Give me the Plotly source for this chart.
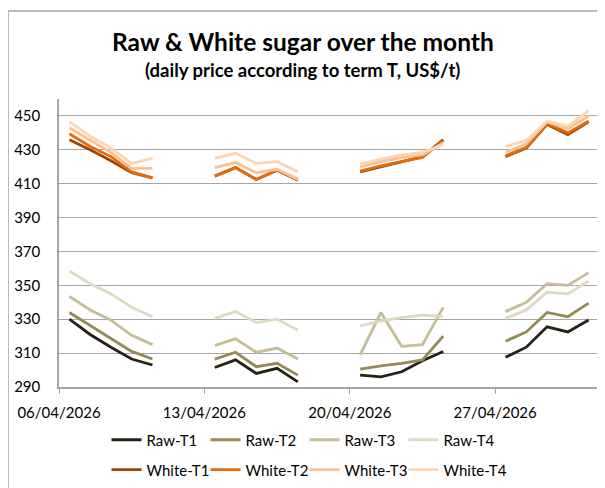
import datetime as dt
import plotly.graph_objects as go

# trading days shown on the chart
days = [
    "2026-04-06", "2026-04-07", "2026-04-08", "2026-04-09", "2026-04-10",
    "2026-04-13", "2026-04-14", "2026-04-15", "2026-04-16", "2026-04-17",
    "2026-04-20", "2026-04-21", "2026-04-22", "2026-04-23", "2026-04-24",
    "2026-04-27", "2026-04-28", "2026-04-29", "2026-04-30", "2026-05-01",
]

raw_t1 = [330, 321, 313.5, 306.5, 303, 301.5, 306, 298, 301, 293,
          297, 296, 299, 305.5, 311, 307.5, 313.5, 325.5, 322.5, 329.5]
raw_t2 = [334, 326.5, 319, 311, 306.5, 306.5, 310.5, 302, 304, 297,
          300.5, 302.5, 304, 306, 320, 317, 322.5, 334, 331.5, 339.5]
raw_t3 = [343.5, 335.5, 329.5, 320.5, 315, 314.5, 318.5, 310.5, 313, 306.5,
          309, 334, 314, 315, 337, 334.5, 340, 351, 350, 357.5]
raw_t4 = [358.5, 351, 345, 337, 331.5, 330.5, 334.5, 328, 330, 323.5,
          326, 329, 331, 332.5, 331.5, 330.5, 335.5, 346, 345, 352.5]

white_t1 = [436, 430, 423.5, 416.5, 413.5, 414.5, 419.5, 412.5, 418, 412,
            417, 420, 423, 426, 436, 426, 431, 445, 439, 446.5]
white_t2 = [439.5, 432, 426, 417, 413.5, 414.5, 419.5, 412.5, 418, 412.5,
            417.5, 420.5, 423, 425.5, 435.5, 426.5, 431.5, 445.5, 440, 447]
white_t3 = [443, 435.5, 428.5, 419, 419, 419.5, 422.5, 416.5, 418.5, 412.5,
            420, 423, 425.5, 427, 434, 428.5, 433.5, 446.5, 442.5, 450]
white_t4 = [446.5, 438, 431, 422, 425, 425, 428, 422, 423, 417,
            421.5, 424.5, 427, 428.5, 433, 432, 435.5, 447, 444, 453]

series = [
    ("Raw-T1", raw_t1, "#262115", "legend"),
    ("Raw-T2", raw_t2, "#948a54", "legend"),
    ("Raw-T3", raw_t3, "#c4bd97", "legend"),
    ("Raw-T4", raw_t4, "#ddd9c3", "legend"),
    ("White-T1", white_t1, "#974806", "legend2"),
    ("White-T2", white_t2, "#e46c0a", "legend2"),
    ("White-T3", white_t3, "#fac090", "legend2"),
    ("White-T4", white_t4, "#fcd5b5", "legend2"),
]

FONT = "Lato, 'Open Sans', sans-serif"
GRID = "#a6a6a6"


def with_gaps(dates, values):
    """Put points at mid-day and break the line over weekends."""
    xs, ys = [], []
    prev = None
    for d, v in zip(dates, values):
        day = dt.datetime.strptime(d, "%Y-%m-%d")
        if prev is not None and (day - prev).days > 1:
            xs.append(prev + dt.timedelta(days=1, hours=12))
            ys.append(None)
        xs.append(day + dt.timedelta(hours=12))
        ys.append(v)
        prev = day
    return xs, ys


fig = go.Figure()
for name, vals, color, leg in series:
    xs, ys = with_gaps(days, vals)
    fig.add_trace(go.Scatter(
        x=xs, y=ys, name=name, mode="lines",
        line=dict(color=color, width=2.8),
        connectgaps=False, legend=leg,
    ))

# blank legend slots so the last real labels are not clipped by the legend box
for leg in ("legend", "legend2"):
    fig.add_trace(go.Scatter(
        x=[days[0]], y=[None], name=" ", mode="lines",
        line=dict(color="rgba(0,0,0,0)", width=1),
        legend=leg, hoverinfo="skip",
    ))

legend_style = dict(
    orientation="h", xanchor="left", yanchor="middle",
    entrywidth=54, entrywidthmode="pixels",
    font=dict(family=FONT, size=15, color="#000000"),
    bgcolor="rgba(0,0,0,0)", itemwidth=30,
)

# the page body adds an 8px offset, so the figure is laid out 8px up/left
fig.update_layout(
    width=605, height=488,
    margin=dict(l=51, r=14, t=91, b=109, autoexpand=False),
    paper_bgcolor="white", plot_bgcolor="white",
    font=dict(family=FONT, size=15, color="#000000"),
    showlegend=True,
    legend=dict(x=0.088, y=-0.184, **legend_style),
    legend2=dict(x=0.088, y=-0.288, **legend_style),
    xaxis=dict(
        type="date",
        range=["2026-04-06", "2026-05-02"],
        tick0="2026-04-06", dtick=7 * 24 * 3600 * 1000,
        tickformat="%d/%m/%Y",
        ticks="outside", ticklen=5, tickcolor=GRID,
        showline=True, linecolor=GRID, linewidth=1.5,
        showgrid=False, zeroline=False,
        ticklabelstandoff=6,
        tickfont=dict(family=FONT, size=15),
    ),
    yaxis=dict(
        range=[290, 460],
        tick0=290, dtick=20,
        showgrid=True, gridcolor=GRID, gridwidth=1.3,
        showline=True, linecolor=GRID, linewidth=1.5,
        ticks="", zeroline=False,
        ticklabelstandoff=14,
        tickfont=dict(family=FONT, size=15),
    ),
    annotations=[
        dict(text="<b>Raw & White sugar over the month</b>",
             x=0.451, y=1.198, xref="paper", yref="paper",
             xanchor="center", yanchor="middle", showarrow=False,
             font=dict(family=FONT, size=24.5, color="#000000")),
        dict(text="<b>(daily price according to term T, US$/t)</b>",
             x=0.451, y=1.101, xref="paper", yref="paper",
             xanchor="center", yanchor="middle", showarrow=False,
             font=dict(family=FONT, size=18.5, color="#000000")),
    ],
    shapes=[
        dict(type="rect", xref="paper", yref="paper",
             x0=-0.0944, x1=1.05, y0=-0.45, y1=1.3056,
             line=dict(color=GRID, width=1.5), fillcolor="rgba(0,0,0,0)",
             layer="below"),
    ],
)

fig.write_html("out.html")
